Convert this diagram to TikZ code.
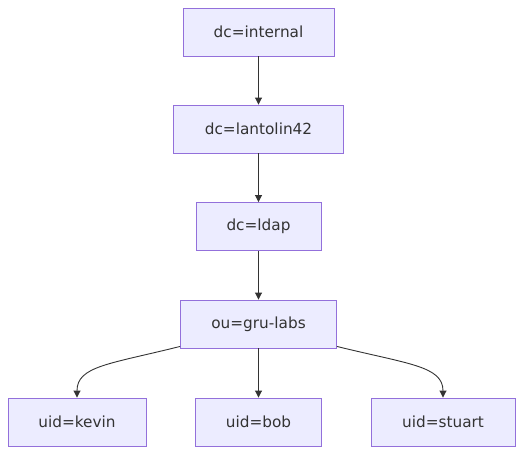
\documentclass[tikz,border=0pt]{standalone}
\usepackage{fontspec}
\setmainfont{DejaVu Sans}
\usetikzlibrary{arrows.meta}
\definecolor{nodefill}{HTML}{ECECFF}
\definecolor{nodeline}{HTML}{9370DB}
\definecolor{txt}{HTML}{333333}
\begin{document}
\begin{tikzpicture}[x=1pt,y=-1pt,
  box/.style={draw=nodeline,fill=nodefill,line width=0.9pt,inner sep=0pt,text=txt,font=\fontsize{15.3}{18}\selectfont},
  conn/.style={draw=txt,line width=0.9pt,-{Triangle[length=7pt,width=7pt]}}]
\useasboundingbox (0,0) rectangle (531,461);
\node[box,minimum width=151pt,minimum height=48pt] (a) at (258.5,32) {dc=internal};
\node[box,minimum width=170pt,minimum height=48pt] (b) at (258.5,129) {dc=lantolin42};
\node[box,minimum width=125pt,minimum height=48pt] (c) at (258.5,226.5) {dc=ldap};
\node[box,minimum width=156pt,minimum height=48pt] (d) at (258.5,324) {ou=gru-labs};
\node[box,minimum width=138pt,minimum height=48pt] (e) at (77,422) {uid=kevin};
\node[box,minimum width=126pt,minimum height=48pt] (f) at (258.5,422) {uid=bob};
\node[box,minimum width=144pt,minimum height=48pt] (g) at (443,422) {uid=stuart};
\draw[conn] (a) -- (b);
\draw[conn] (b) -- (c);
\draw[conn] (c) -- (d);
\draw[conn] (d) -- (f);
\draw[conn] (d.south west) ++(0,-2) .. controls (110,364) and (77,366) .. (e.north);
\draw[conn] (d.south east) ++(0,-2) .. controls (408,364) and (443,366) .. (g.north);
\end{tikzpicture}
\end{document}
